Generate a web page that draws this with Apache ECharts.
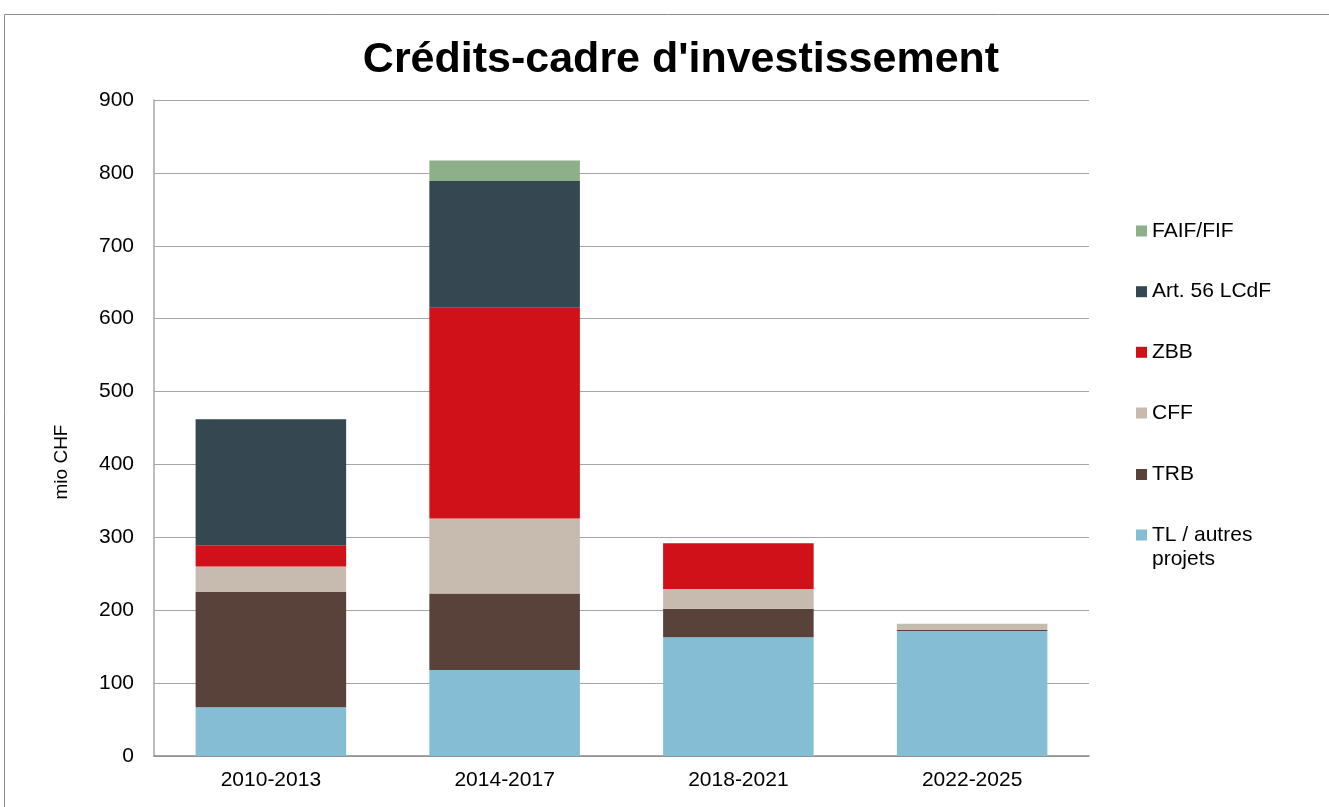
<!DOCTYPE html>
<html>
<head>
<meta charset="utf-8">
<script src="https://cdn.jsdelivr.net/npm/echarts@6/dist/echarts.min.js"></script>
<style>
html,body{margin:0;padding:0;background:#fff;}
#chart{width:1329px;height:807px;}
</style>
</head>
<body>
<div id="chart"></div>
<script>
const categories = ['2010-2013', '2014-2017', '2018-2021', '2022-2025'];
const seriesNames = ['TL / autres projets', 'TRB', 'CFF', 'ZBB', 'Art. 56 LCdF', 'FAIF/FIF'];
const tlValues    = [67, 118, 163, 171.5];
const trbValues   = [158, 105, 39, 1.5];
const cffValues   = [35, 103, 27, 8.5];
const zbbValues   = [29, 289, 63, 0];
const art56Values = [173, 174, 0, 0];
const faifValues  = [0, 28, 0, 0];
const yTicks = [0, 100, 200, 300, 400, 500, 600, 700, 800, 900];

const colors = ['#85BDD5', '#59423A', '#C7BAAE', '#D0111A', '#354750', '#8DB08A'];
const allValues = [tlValues, trbValues, cffValues, zbbValues, art56Values, faifValues];
const FONT = 'Liberation Sans, Arial, sans-serif';

const chart = echarts.init(document.getElementById('chart'), null, {renderer: 'canvas'});

const legendCenters = [535, 474.5, 413, 352.3, 291.7, 231];
const legends = seriesNames.map((name, i) => {
  const multi = i === 0;
  return {
    data: [name],
    orient: 'vertical',
    left: 1136,
    top: legendCenters[i] - 12,
    padding: 0,
    itemWidth: 11,
    itemHeight: 11,
    icon: 'rect',
    selectedMode: false,
    formatter: multi ? () => 'TL / autres' : undefined,
    textStyle: {fontFamily: FONT, fontSize: 21, color: '#000', lineHeight: 24}
  };
});

chart.setOption({
  animation: false,
  backgroundColor: '#fff',
  title: {
    text: "Crédits-cadre d'investissement",
    left: 676, top: 34, textAlign: 'center',
    textStyle: {fontFamily: FONT, fontWeight: 'bold', fontSize: 43, color: '#000'}
  },
  graphic: [
    {type: 'rect', shape: {x: 4.5, y: 14.5, width: 1400, height: 900},
     style: {fill: 'none', stroke: '#8c8c8c', lineWidth: 1}, silent: true, z: -1},
    {type: 'text', x: 62, y: 462, rotation: Math.PI / 2,
     style: {text: 'mio CHF', fontFamily: FONT, fontSize: 19, fill: '#000',
             align: 'center', verticalAlign: 'middle'}},
    {type: 'text', x: 1152, y: 559,
     style: {text: 'projets', fontFamily: FONT, fontSize: 21, fill: '#000',
             align: 'left', verticalAlign: 'middle'}}
  ],
  legend: legends,
  grid: {left: 154, top: 100, width: 935, height: 656, containLabel: false},
  xAxis: {
    type: 'category',
    data: categories,
    axisLine: {show: true, lineStyle: {color: '#8c8c8c', width: 1.5}},
    axisTick: {show: false},
    axisLabel: {fontFamily: FONT, fontSize: 21, color: '#000', margin: 14},
    splitLine: {show: false}
  },
  yAxis: {
    type: 'value',
    min: yTicks[0], max: yTicks[yTicks.length - 1], interval: 100,
    axisLine: {show: true, lineStyle: {color: '#a6a6a6', width: 1.5}},
    axisTick: {show: false},
    axisLabel: {fontFamily: FONT, fontSize: 21, color: '#000', margin: 20},
    splitLine: {show: true, lineStyle: {color: '#a6a6a6', width: 1.2}}
  },
  series: seriesNames.map((name, i) => ({
    name: name,
    type: 'bar',
    stack: 'total',
    data: allValues[i],
    barCategoryGap: '35.6%',
    itemStyle: {color: colors[i]},
    emphasis: {disabled: true}
  }))
});
</script>
</body>
</html>
